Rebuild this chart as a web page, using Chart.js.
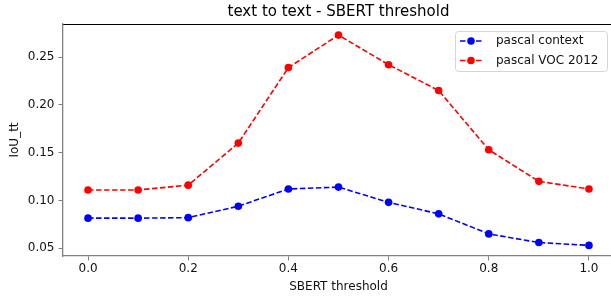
<!DOCTYPE html>
<html>
<head>
<meta charset="utf-8">
<script src="https://cdn.jsdelivr.net/npm/chart.js@4"></script>
<style>
  html, body { margin: 0; padding: 0; background: #fff; overflow: hidden; }
  #wrap { width: 620px; height: 300px; }
</style>
</head>
<body>
<div id="wrap"><canvas id="chart" width="620" height="300"></canvas></div>
<script>
// SBERT threshold values (x axis)
const thresholds = [0.0, 0.1, 0.2, 0.3, 0.4, 0.5, 0.6, 0.7, 0.8, 0.9, 1.0];

// IoU_tt values
const pascalContext = [0.0815, 0.0815, 0.082, 0.094, 0.112, 0.114, 0.098, 0.086, 0.065, 0.056, 0.053];
const pascalVoc2012 = [0.111, 0.111, 0.116, 0.160, 0.239, 0.273, 0.242, 0.215, 0.153, 0.120, 0.112];

const xTicks = [0.0, 0.2, 0.4, 0.6, 0.8, 1.0];
const yTicks = [0.05, 0.10, 0.15, 0.20, 0.25];

const font = 'DejaVu Sans';
const spineGray = '#808080';
const textColor = '#111';

function toPoints(values) {
  return thresholds.map((t, i) => ({ x: t, y: values[i] }));
}

function series(label, values, color) {
  return {
    label: label,
    data: toPoints(values),
    borderColor: color,
    backgroundColor: color,
    borderWidth: 1.6,
    borderDash: [5.5, 2.5],
    pointRadius: 3.8,
    pointHoverRadius: 3.8,
    pointBorderWidth: 0,
    pointBackgroundColor: color,
    fill: false,
    tension: 0
  };
}

// legend box in the upper right, like matplotlib
const legendBox = {
  id: 'legendBox',
  afterDraw(chart) {
    const { ctx } = chart;
    ctx.save();
    const bx = 455, by = 31, bw = 152, bh = 40, r = 3;
    ctx.fillStyle = 'rgba(255,255,255,0.8)';
    ctx.strokeStyle = '#d6d6d6';
    ctx.lineWidth = 1;
    ctx.beginPath();
    ctx.roundRect(bx + 0.5, by + 0.5, bw, bh, r);
    ctx.fill();
    ctx.stroke();

    ctx.font = '12px "' + font + '"';
    ctx.textBaseline = 'middle';
    ctx.textAlign = 'left';
    chart.data.datasets.forEach((ds, i) => {
      const y = 41 + i * 19.5;
      ctx.strokeStyle = ds.borderColor;
      ctx.lineWidth = ds.borderWidth;
      ctx.setLineDash(ds.borderDash);
      ctx.beginPath();
      ctx.moveTo(460, y);
      ctx.lineTo(482, y);
      ctx.stroke();
      ctx.setLineDash([]);
      ctx.fillStyle = ds.pointBackgroundColor;
      ctx.beginPath();
      ctx.arc(471, y, ds.pointRadius, 0, Math.PI * 2);
      ctx.fill();
      ctx.fillStyle = textColor;
      ctx.fillText(ds.label, 496, y);
    });
    ctx.restore();
  }
};

new Chart(document.getElementById('chart'), {
  type: 'line',
  data: {
    datasets: [
      series('pascal context', pascalContext, '#0000ff'),
      series('pascal VOC 2012', pascalVoc2012, '#ff0000')
    ]
  },
  options: {
    responsive: false,
    animation: false,
    events: [],
    layout: { padding: { left: 0, right: 6, top: 0, bottom: 0 } },
    plugins: {
      legend: { display: false },
      tooltip: { enabled: false },
      title: { display: false }
    },
    scales: {
      x: {
        type: 'linear',
        min: -0.05,
        max: 1.05,
        afterBuildTicks: s => { s.ticks = xTicks.map(v => ({ value: v })); },
        afterFit: s => { s.height = 44; },
        grid: { display: true, drawOnChartArea: false, drawTicks: true, tickLength: 4.5, color: spineGray, lineWidth: 1 },
        border: { display: true, color: spineGray, width: 1.3 },
        ticks: {
          color: textColor,
          padding: 1,
          maxRotation: 0,
          font: { family: font, size: 12 },
          callback: v => Number(v).toFixed(1)
        },
        title: {
          display: true,
          text: 'SBERT threshold',
          color: textColor,
          font: { family: font, size: 12, lineHeight: 1.2 },
          padding: { top: 0, bottom: 6.1 }
        }
      },
      // top axis: carries the chart title (centred on the plot) and the black top spine
      top: {
        type: 'linear',
        position: 'top',
        min: -0.05,
        max: 1.05,
        afterFit: s => { s.height = 24; },
        grid: { display: true, drawOnChartArea: false, drawTicks: false, tickLength: 0, color: 'rgba(0,0,0,0)' },
        border: { display: true, color: '#000', width: 1 },
        ticks: { display: false },
        title: {
          display: true,
          text: 'text to text - SBERT threshold',
          color: '#000',
          font: { family: font, size: 15, lineHeight: 1.2 },
          padding: { top: 3, bottom: 0 }
        }
      },
      y: {
        type: 'linear',
        min: 0.0419,
        max: 0.2846,
        afterBuildTicks: s => { s.ticks = yTicks.map(v => ({ value: v })); },
        afterFit: s => { s.width = 63; },
        grid: { display: true, drawOnChartArea: false, drawTicks: true, tickLength: 4.5, color: spineGray, lineWidth: 1 },
        border: { display: true, color: spineGray, width: 1.3 },
        ticks: {
          color: textColor,
          padding: 4,
          font: { family: font, size: 12 },
          callback: v => Number(v).toFixed(2)
        },
        title: {
          display: true,
          text: 'IoU_tt',
          color: textColor,
          font: { family: font, size: 12, lineHeight: 1.2 },
          padding: { top: 7.8, bottom: 0 }
        }
      }
    }
  },
  plugins: [legendBox]
});
</script>
</body>
</html>
